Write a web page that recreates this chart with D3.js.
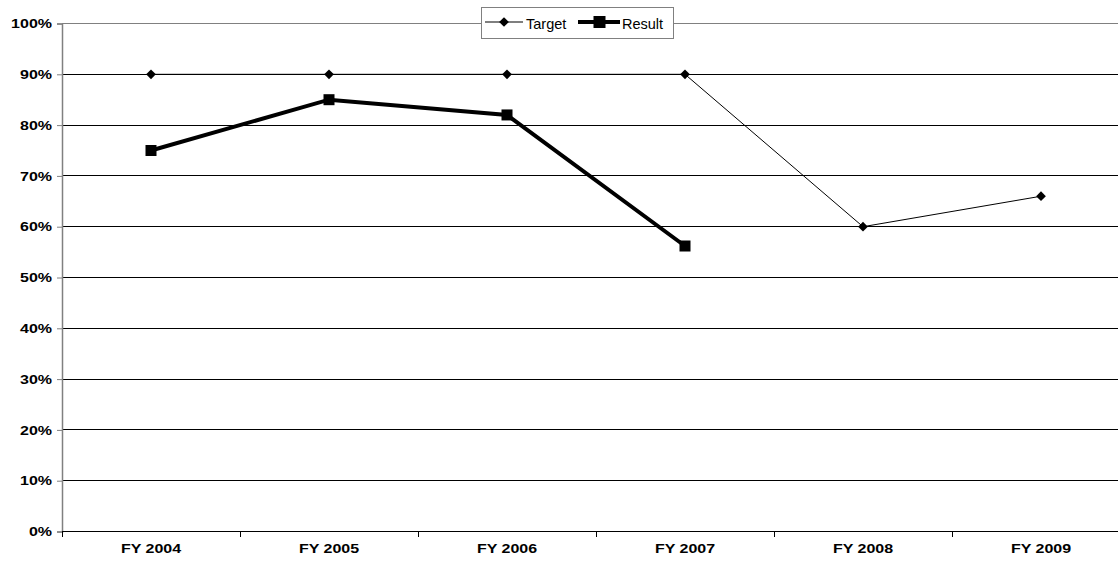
<!DOCTYPE html>
<html><head><meta charset="utf-8">
<script src="https://cdn.jsdelivr.net/npm/d3@7"></script>
<style>body{margin:0;background:#fff;overflow:hidden}svg{display:block}text{font-family:"Liberation Sans",Arial,sans-serif}</style>
</head><body>
<svg id="c" width="1118" height="562"></svg>
<script>
const categories = ["FY 2004","FY 2005","FY 2006","FY 2007","FY 2008","FY 2009"];
const targetValues = [90, 90, 90, 90, 60, 66];
const resultValues = [75, 85, 82, 56.2, null, null];
const yTicks = [0,10,20,30,40,50,60,70,80,90,100];

const svg = d3.select("#c");
const mLeft = 62, mRight = 1130, mTop = 23.5, mBottom = 531.5;
const x = d3.scaleBand().domain(categories).range([mLeft, mRight]);
const y = d3.scaleLinear().domain([0, 100]).range([mBottom, mTop]);

function stretch(sel, k) {
  sel.each(function() {
    const w = this.getComputedTextLength();
    d3.select(this).attr("textLength", w * k).attr("lengthAdjust", "spacingAndGlyphs");
  });
}

// gridlines
svg.append("g").selectAll("line").data(yTicks.filter(d => d > 0)).join("line")
  .attr("x1", mLeft).attr("x2", mRight).attr("y1", d => y(d)).attr("y2", d => y(d))
  .attr("stroke", d => d === 100 ? "#808080" : "#000").attr("stroke-width", d => d === 100 ? 1.5 : 1)
  .attr("shape-rendering", "crispEdges");

// y axis
const ya = svg.append("g").attr("transform", `translate(${mLeft},0)`)
  .call(d3.axisLeft(y).tickValues(yTicks).tickFormat(d => d + "%").tickSize(5).tickPadding(5));
ya.select(".domain").attr("stroke", "#808080").attr("stroke-width", 1.5);
ya.selectAll(".tick line").attr("stroke", "#808080");
ya.selectAll("text").attr("font-size", 13).attr("font-weight", "bold").attr("fill", "#000")
  .style("font-family", "'Liberation Sans', Arial, sans-serif");
stretch(ya.selectAll("text"), 1.23);

// x axis
const xa = svg.append("g").attr("transform", `translate(0,${mBottom})`)
  .call(d3.axisBottom(x).tickSize(0).tickPadding(12));
xa.select(".domain").remove();
svg.append("line").attr("x1", mLeft).attr("x2", mRight).attr("y1", mBottom).attr("y2", mBottom)
  .attr("stroke", "#000").attr("stroke-width", 1).attr("shape-rendering", "crispEdges");
svg.append("g").selectAll("line").data(d3.range(categories.length + 1)).join("line")
  .attr("x1", i => mLeft + i * x.step()).attr("x2", i => mLeft + i * x.step())
  .attr("y1", mBottom).attr("y2", mBottom + 5).attr("stroke", "#000").attr("shape-rendering", "crispEdges");
xa.selectAll("text").attr("font-size", 13).attr("font-weight", "bold").attr("fill", "#000")
  .style("font-family", "'Liberation Sans', Arial, sans-serif");
stretch(xa.selectAll("text"), 1.23);

const cx = d => x(d) + x.bandwidth() / 2;

// Target line
const tData = categories.map((c, i) => ({c, v: targetValues[i]})).filter(d => d.v != null);
svg.append("path").datum(tData)
  .attr("d", d3.line().x(d => cx(d.c)).y(d => y(d.v)))
  .attr("fill", "none").attr("stroke", "#000").attr("stroke-width", 1);
svg.append("g").selectAll("path").data(tData).join("path")
  .attr("d", d3.symbol(d3.symbolDiamond2, 60))
  .attr("transform", d => `translate(${cx(d.c)},${y(d.v)})`).attr("fill", "#000");

// Result line
const rData = categories.map((c, i) => ({c, v: resultValues[i]})).filter(d => d.v != null);
svg.append("path").datum(rData)
  .attr("d", d3.line().x(d => cx(d.c)).y(d => y(d.v)))
  .attr("fill", "none").attr("stroke", "#000").attr("stroke-width", 4).attr("stroke-linejoin", "miter");
svg.append("g").selectAll("rect").data(rData).join("rect")
  .attr("x", d => cx(d.c) - 5.5).attr("y", d => y(d.v) - 5.5).attr("width", 11).attr("height", 11)
  .attr("fill", "#000");

// Legend
const lg = svg.append("g");
const ly = 22;
lg.append("rect").attr("x", 481.5).attr("y", 7.5).attr("width", 192).attr("height", 31)
  .attr("fill", "#fff").attr("stroke", "#808080").attr("stroke-width", 1);
lg.append("line").attr("x1", 485).attr("x2", 523).attr("y1", ly).attr("y2", ly).attr("stroke", "#000").attr("stroke-width", 1.2);
lg.append("path").attr("d", d3.symbol(d3.symbolDiamond2, 60)).attr("transform", `translate(504,${ly})`);
lg.append("text").attr("x", 526).attr("y", 29).attr("font-size", 14.5).text("Target");
lg.append("line").attr("x1", 578).attr("x2", 620).attr("y1", ly).attr("y2", ly).attr("stroke", "#000").attr("stroke-width", 4);
lg.append("rect").attr("x", 593.5).attr("y", ly - 6).attr("width", 12).attr("height", 12);
lg.append("text").attr("x", 622).attr("y", 29).attr("font-size", 14.5).text("Result");
</script>
</body></html>
